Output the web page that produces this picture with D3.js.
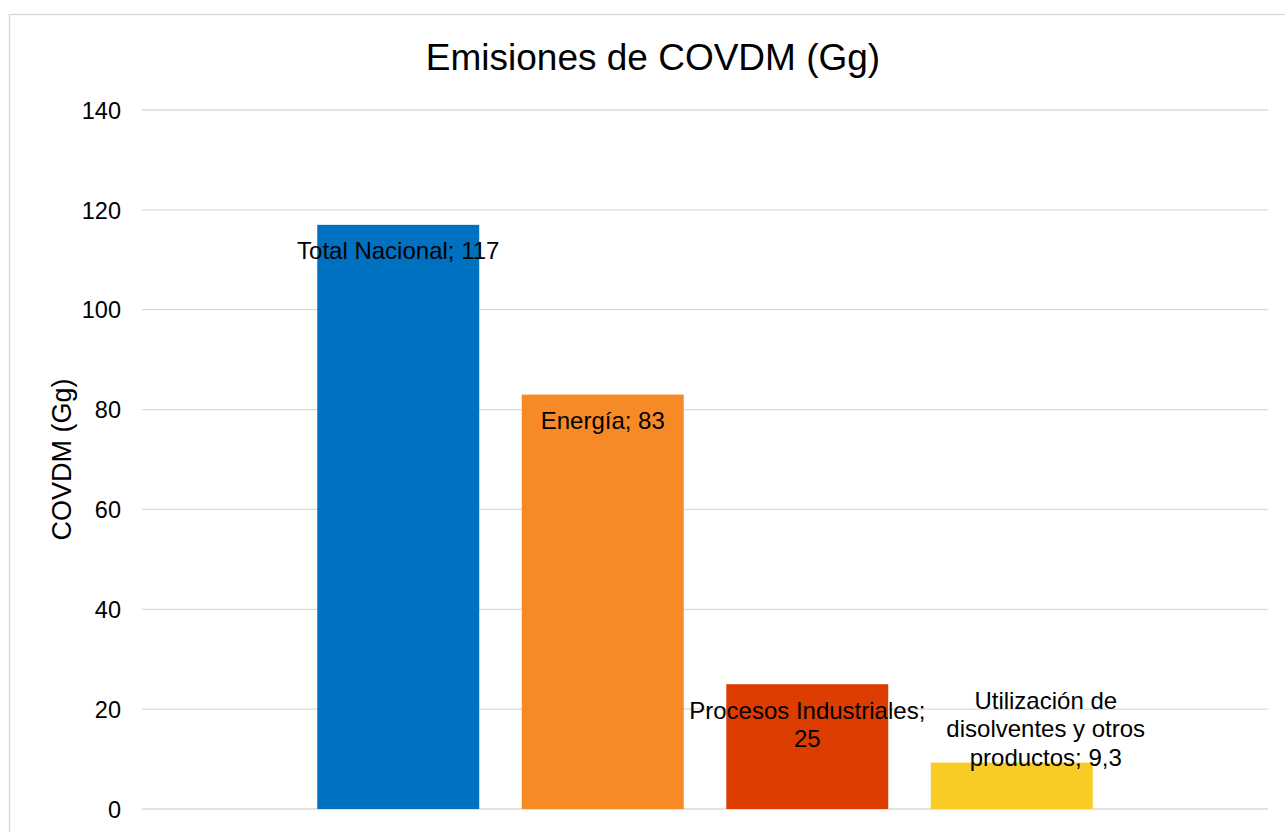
<!DOCTYPE html>
<html>
<head>
<meta charset="utf-8">
<script src="https://cdn.jsdelivr.net/npm/d3@7"></script>
<style>
  html, body { margin: 0; padding: 0; background: #ffffff; }
  svg { display: block; font-family: "Liberation Sans", Arial, sans-serif; }
</style>
</head>
<body>
<svg id="chart" width="1285" height="832"></svg>
<script>
// ---- data ----
const seriesNames = ["Total Nacional", "Energía", "Procesos Industriales", "Utilización de disolventes y otros productos"];
const seriesValues = [117, 83, 25, 9.3];
const valueLabels = ["117", "83", "25", "9,3"];
const seriesColors = ["#0070c0", "#f68a26", "#dd3d00", "#f9cb25"];
const yTicks = [0, 20, 40, 60, 80, 100, 120, 140];
const chartTitle = "Emisiones de COVDM (Gg)";
const yAxisTitle = "COVDM (Gg)";

// ---- layout ----
const svg = d3.select("#chart");
const plot = { left: 142, right: 1268, top: 110, bottom: 809 };

// chart border
svg.append("rect")
  .attr("x", 9.5).attr("y", 14.5)
  .attr("width", 1288).attr("height", 840)
  .attr("fill", "#ffffff")
  .attr("stroke", "#d9d9d9").attr("stroke-width", 1.3);

const x = d3.scaleBand()
  .domain(seriesNames)
  .range([plot.left, plot.right])
  .paddingInner(0.208)
  .paddingOuter(0.857);

const y = d3.scaleLinear()
  .domain([0, 140])
  .range([plot.bottom, plot.top]);

// gridlines
svg.append("g")
  .selectAll("line")
  .data(yTicks)
  .join("line")
  .attr("x1", plot.left).attr("x2", plot.right)
  .attr("y1", d => y(d)).attr("y2", d => y(d))
  .attr("stroke", "#d9d9d9").attr("stroke-width", 1.3);

// y axis labels
const yAxis = d3.axisLeft(y).tickValues(yTicks).tickSize(0).tickPadding(0).tickFormat(d3.format("d"));
const gy = svg.append("g")
  .attr("transform", `translate(${121},0)`)
  .call(yAxis);
gy.select(".domain").remove();
gy.selectAll("text")
  .attr("font-family", "Liberation Sans, Arial, sans-serif")
  .attr("font-size", 23.5)
  .attr("fill", "#000000")
  .attr("dy", "0.35em");

// bars
svg.append("g")
  .selectAll("rect")
  .data(seriesNames)
  .join("rect")
  .attr("x", d => x(d))
  .attr("width", x.bandwidth())
  .attr("y", (d, i) => y(seriesValues[i]))
  .attr("height", (d, i) => y(0) - y(seriesValues[i]))
  .attr("fill", (d, i) => seriesColors[i]);

// data labels with wrapping
const labelFont = 24;
const lineH = 28.5;
const wrapWidth = 240;
const labelsG = svg.append("g");

function wrapLines(text) {
  const tmp = labelsG.append("text").attr("font-size", labelFont);
  const words = text.split(" ");
  const lines = [];
  let cur = "";
  words.forEach(w => {
    const test = cur ? cur + " " + w : w;
    tmp.text(test);
    if (tmp.node().getComputedTextLength() > wrapWidth && cur) {
      lines.push(cur);
      cur = w;
    } else {
      cur = test;
    }
  });
  if (cur) lines.push(cur);
  tmp.remove();
  return lines;
}

seriesNames.forEach((name, i) => {
  const label = name + "; " + valueLabels[i];
  const lines = wrapLines(label);
  let cx = x(name) + x.bandwidth() / 2;
  const top = y(seriesValues[i]);
  const barH = y(0) - top;
  const boxH = lines.length * lineH + 10;
  let firstBaseline;
  if (boxH < barH) {
    firstBaseline = top + 34.5;
  } else {
    // label does not fit inside the bar: placed above-right, as in the original
    firstBaseline = top + 3 - (lines.length - 1) * lineH;
    cx += 34;
  }
  const t = labelsG.append("text")
    .attr("text-anchor", "middle")
    .attr("font-size", labelFont)
    .attr("fill", "#000000");
  lines.forEach((ln, k) => {
    t.append("tspan")
      .attr("x", cx)
      .attr("y", firstBaseline + k * lineH)
      .text(ln);
  });
});

// title
svg.append("text")
  .attr("x", 653).attr("y", 70)
  .attr("text-anchor", "middle")
  .attr("font-size", 37)
  .attr("fill", "#000000")
  .text(chartTitle);

// y axis title
svg.append("text")
  .attr("transform", `translate(71, ${(plot.top + plot.bottom) / 2}) rotate(-90)`)
  .attr("text-anchor", "middle")
  .attr("font-size", 27)
  .attr("fill", "#000000")
  .text(yAxisTitle);
</script>
</body>
</html>
